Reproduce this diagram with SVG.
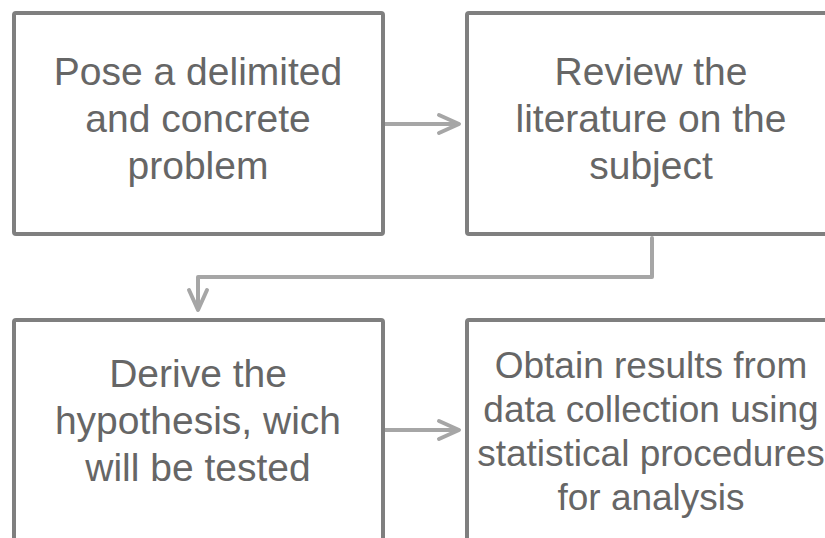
<svg xmlns="http://www.w3.org/2000/svg" width="825" height="538" viewBox="0 0 825 538">
<defs>
<style>
.box{fill:#ffffff;stroke:#7f7f7f;stroke-width:4}
.t{font-family:"Liberation Sans",Arial,sans-serif;font-size:39px;fill:#666666;text-anchor:middle}
.t2{font-family:"Liberation Sans",Arial,sans-serif;font-size:37px;fill:#666666;text-anchor:middle}
.c{fill:none;stroke:#a6a6a6;stroke-width:4;stroke-linecap:round;stroke-linejoin:round}
</style>
</defs>
<rect width="825" height="538" fill="#ffffff"/>
<g id="connectors">
<path class="c" d="M385 124 H457"/>
<path class="c" d="M439 115 L459 124 L439 133"/>
<path class="c" d="M652 238 V277 H198 V308"/>
<path class="c" d="M189 290 L198 310 L207 290"/>
<path class="c" d="M385 430 H457"/>
<path class="c" d="M439 421 L459 430 L439 439"/>
</g>
<g id="node1">
<rect class="box" x="14" y="13" width="369" height="221" rx="2"/>
<text class="t" x="198" y="85">Pose a delimited</text>
<text class="t" x="198" y="132">and concrete</text>
<text class="t" x="198" y="179">problem</text>
</g>
<g id="node2">
<rect class="box" x="467" y="13" width="369" height="221" rx="2"/>
<text class="t" x="651" y="85">Review the</text>
<text class="t" x="651" y="132">literature on the</text>
<text class="t" x="651" y="179">subject</text>
</g>
<g id="node3">
<rect class="box" x="14" y="320" width="369" height="221" rx="2"/>
<text class="t" x="198" y="387">Derive the</text>
<text class="t" x="198" y="434">hypothesis, wich</text>
<text class="t" x="198" y="481">will be tested</text>
</g>
<g id="node4">
<rect class="box" x="467" y="320" width="369" height="221" rx="2"/>
<text class="t2" x="651" y="378">Obtain results from</text>
<text class="t2" x="651" y="422">data collection using</text>
<text class="t2" x="651" y="466">statistical procedures</text>
<text class="t2" x="651" y="510">for analysis</text>
</g>
</svg>
